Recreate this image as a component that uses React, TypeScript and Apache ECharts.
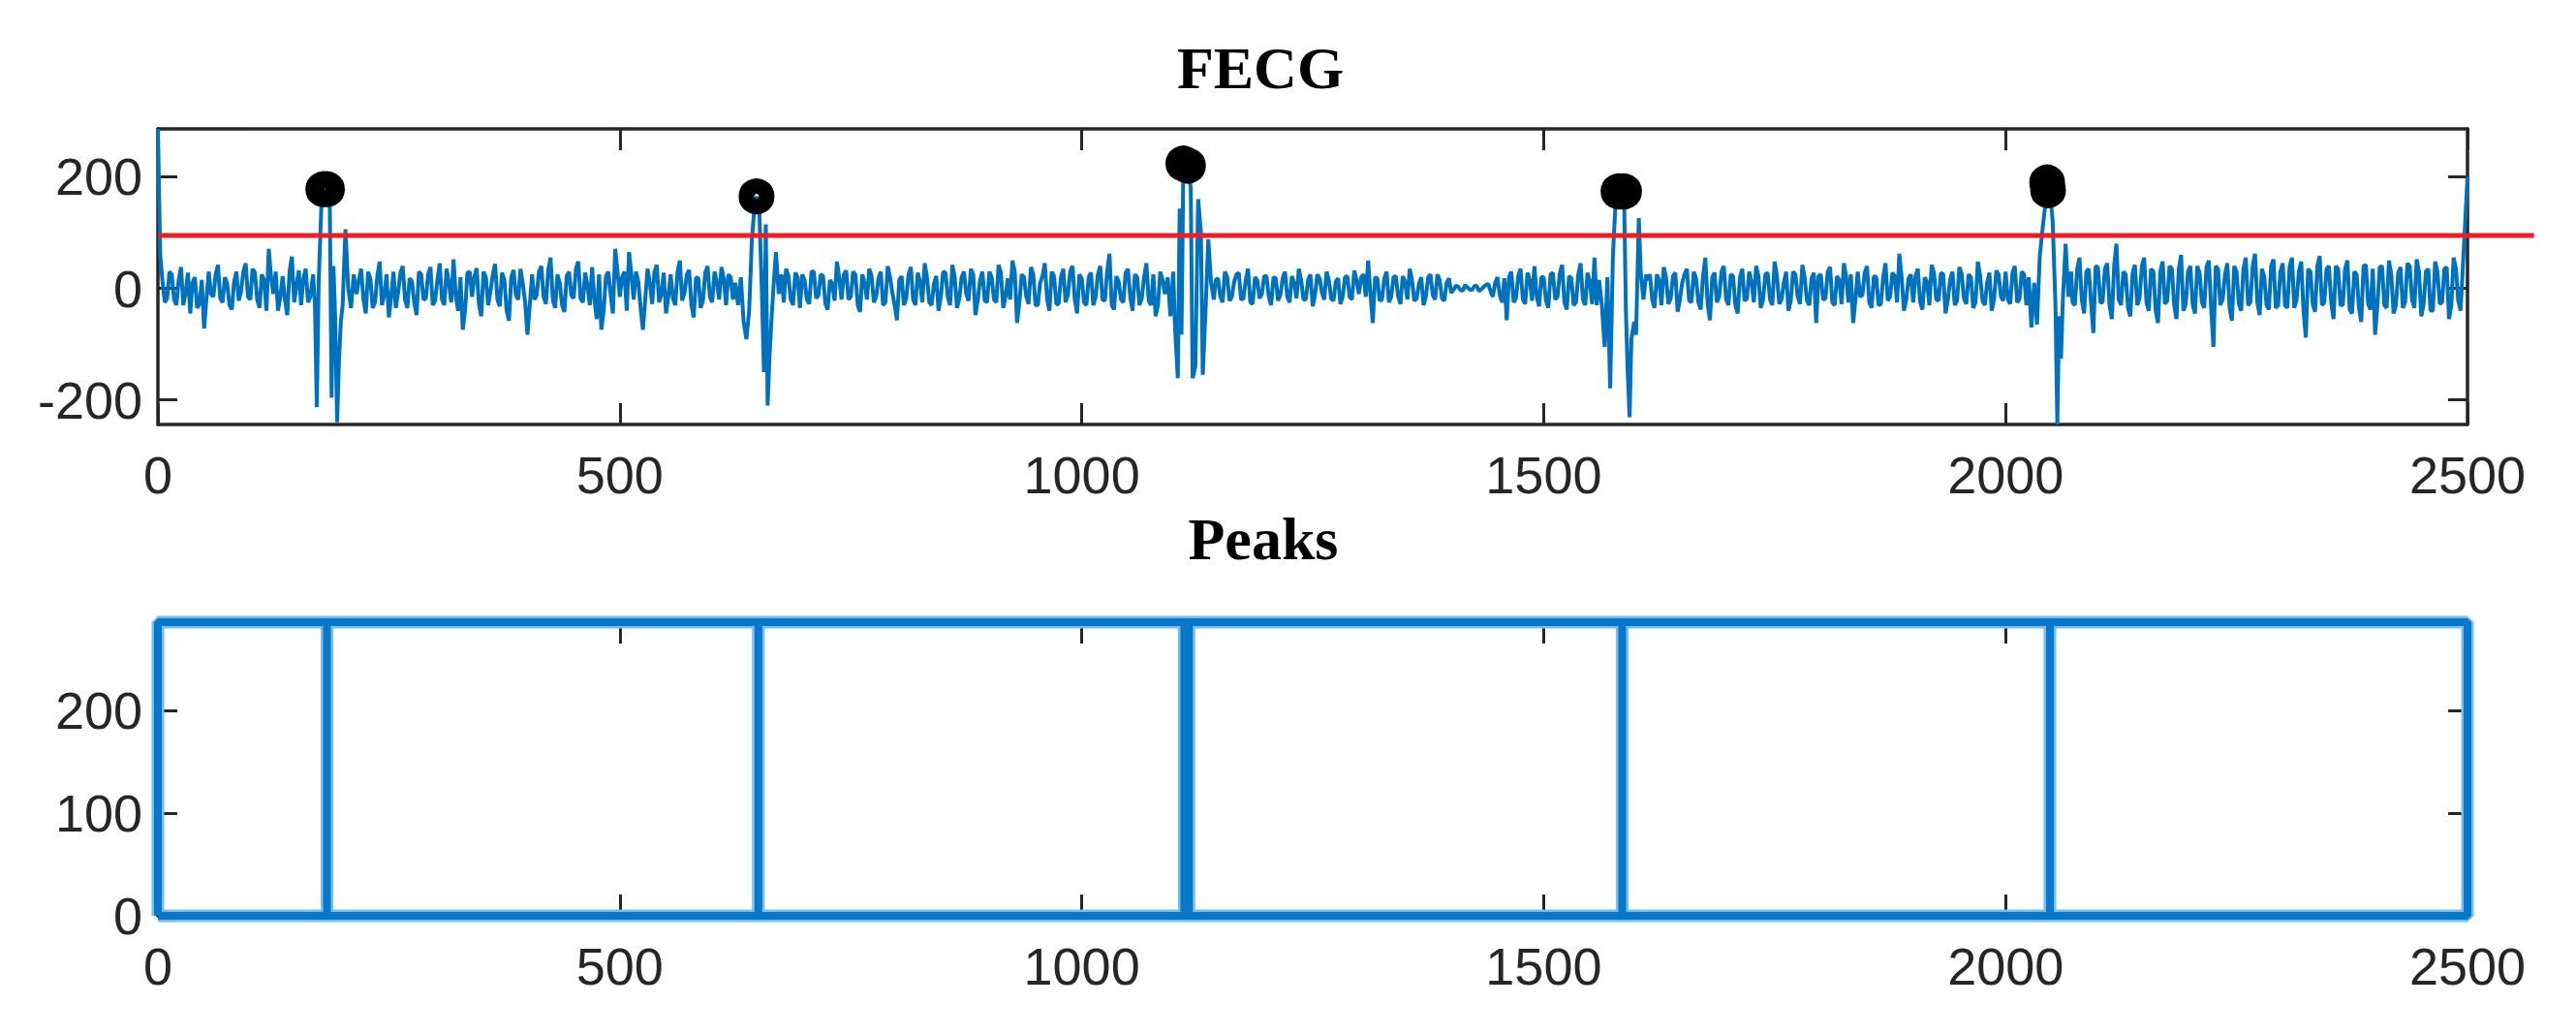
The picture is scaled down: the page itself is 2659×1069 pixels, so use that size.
import React, { useEffect, useRef } from "react";
import * as echarts from "echarts";

// ---------- data ----------
const fecgStep = 5; // base samples at x = i * 5, mid samples at x = i * 5 + 2.5
const fecgBase = [
  286, 12, -18, 25, -30, 38, -8, -45, 20, -28, -72, 30, -15, 42, -25, 8, -38, 30, -5, 45,
  -20, 28, -35, 15, 71, -10, -40, 22, -48, 57, 5, -30, 35, 10, -20, 40, -60, 150, 170, 20,
  -30, 100, 5, -20, 35, -45, 18, -25, 48, -12, -52, 30, -8, 40, -35, 12, -48, 25, -18, 38,
  -22, 45, -30, 10, 52, -40, -74, 28, -15, 36, -50, 20, -5, 44, -32, 15, -58, 33, -20, 8,
  -83, 25, -12, 40, -28, 55, -35, 10, -42, 30, -18, 48, -25, 5, 38, -55, -74, 22, -10, 71,
  -15, 30, 65, -20, 12, -74, 35, -28, 42, -10, -45, 25, -30, 50, -8, 33, -52, 18, -22, 40,
  -25, 12, 38, -30, 20, -40, -60, 60, -91, 150, 160, 60, -150, -210, -100, 20, 35, -20, 28, -35,
  15, -28, 30, -12, 22, -38, 8, 48, -20, 32, -15, 25, -42, 10, 35, -25, 18, -30, 40, -8,
  -57, 22, -18, 38, -30, 12, 45, -25, 8, -40, 30, -15, 42, -35, 20, -10, 35, -48, 15, -22,
  30, -20, 42, -35, 18, 50, -62, 25, -15, 38, -30, 10, 45, -40, 22, -28, 35, -12, 40, -45,
  18, -30, 28, -15, 40, -22, 62, -38, 12, -25, 35, -40, 20, -18, 45, -30, -50, 30, -60, -90,
  180, 222, 50, -160, 170, -40, 88, 10, -20, 25, -15, 30, -22, 12, 28, -18, 35, -28, 15, -10,
  22, -30, 18, -12, 30, -25, 10, 35, -20, 15, -32, 25, -8, 30, -18, 12, -28, 20, -15, 32,
  -10, 25, 50, -62, 18, -20, 30, -15, 22, -28, 12, 35, -22, 8, -30, 20, -12, 25, -18, 10,
  -8, 5, -3, 6, -2, 4, -5, 3, 8, -15, 20, -25, -57, 30, -18, 35, -28, 15, 40, -32,
  20, -35, 28, -15, 42, -38, 18, -25, 45, -30, 12, 55, -50, -105, 170, 170, -180, -230, -40, 126,
  30, 123, -20, 25, -35, 15, 38, -28, 22, -42, 10, 35, -25, 18, -38, 55, -57, 28, -15, 40,
  -30, 22, -45, 35, -18, 12, 40, -35, 25, -20, 48, -28, 10, -40, 30, -15, 42, -22, 18, -62,
  25, -18, 38, -30, 15, 45, -25, -62, 30, -12, 40, -35, 20, -28, 45, -15, 22, 62, -40, 18,
  -25, 35, -38, 12, 42, -20, 28, -45, 15, -30, 38, -18, 25, -35, 48, -22, 10, -40, 32, -15,
  30, -28, 40, -20, 25, -70, -70, 30, 60, 176, -244, -126, 40, 75, 20, -30, 55, -45, 35, -80,
  38, -25, 45, -55, 80, -30, 25, -50, 42, -18, 55, -40, 30, -62, 48, -22, 35, -55, 60, -28,
  40, -45, 28, -35, 50, -105, 35, -20, 45, -58, 30, -40, 55, -25, 62, -48, 20, -38, 52, -30,
  45, -35, 55, -20, 48, -88, 30, -42, 58, -25, 40, -55, 35, -30, 50, -45, 25, -60, 42, -38,
  -83, 38, -30, 50, -45, 28, -35, 45, -20, 52, -50, 30, -40, 48, -28, 35, -55, 55, -22, 40,
  200,
];
const fecgMid = [
  60, -25, 30, -20, 15, -30, 28, 10, -35, 15, -20, -10, 25, -18, 20, -30, 12, -22, 30, -15,
  35, -20, 25, -40, 20, 30, -15, -20, 30, -25, 32, 18, -25, 30, 22, -35, 10, 160, 100, -60,
  40, 50, -28, 15, -20, 30, -35, 22, -30, 25, -15, -35, 28, -20, 18, -25, 30, -20, 25, -30,
  15, -20, 35, -25, -15, 20, -40, 30, 20, -28, 30, -30, 25, -20, 28, -40, 20, -12, 35, -25,
  -30, -20, 30, -15, 32, -20, 25, -30, 22, -12, 35, -18, 28, -30, -20, 25, -40, 30, -45, 30,
  20, -40, 25, 30, -35, -20, 10, 30, -25, 28, -15, -18, 30, -22, 25, -30, 20, -35, 28, -15,
  30, -20, 18, 25, -20, 30, -45, 20, 60, 160, 120, -80, -180, -160, -40, -25, 22, -30, 20, 25,
  -20, 30, -18, 25, -28, 15, -22, 20, 25, -20, 30, -30, 25, -20, 22, -15, 30, -25, 20, -30,
  15, -30, 25, -20, 28, -25, 20, -30, 22, -15, 28, -30, 20, -18, 30, -22, 25, -20, 30, -25,
  20, -25, 28, -15, -20, 30, -25, 20, -28, 25, -30, 22, -18, 30, -28, 20, -25, 30, -20, 25,
  -25, 20, -30, 25, -20, 30, -30, 22, -20, 28, -15, 25, -30, 20, -22, 25, -30, 15, -40, 60,
  200, 110, -100, 20, 60, 30, -20, 28, -15, 18, -25, 20, -15, 25, -20, 15, -25, 20, -18, 22,
  -15, 20, -22, 18, -15, 22, -18, 15, -20, 25, -12, 18, -20, 15, -22, 18, -15, 22, -20, 15,
  20, -15, -10, 20, -22, 18, -25, 20, -15, 22, -20, 15, -18, 20, -15, 25, -20, 15, -22, 18,
  -2, 3, -4, 2, -3, 5, -2, 6, -5, 10, -12, 18, 20, -25, 22, -20, 28, -22, -15, 20,
  -22, 25, -20, 28, -25, 22, -30, 25, -20, 28, -28, -30, -80, 40, 172, 20, -200, -100, 30, 60,
  50, 40, 15, -20, 25, -30, 20, -18, 28, -20, 25, -22, 30, -25, 22, -28, 20, -25, 30, -20,
  25, -30, 20, -22, 30, -25, 22, -20, 28, -30, 22, -20, 30, -22, 25, -28, 20, -30, 28, 22,
  -20, 30, -25, 22, -28, 20, 25, -20, -15, 28, -25, 22, -30, 20, -22, 28, -25, 20, -20, 25,
  22, -25, 20, -30, 28, -22, 25, -20, 30, -22, 25, -28, 20, -25, 22, -30, 28, -20, 25, -22,
  -20, 28, -25, 30, -30, -50, 20, 50, 120, -50, -180, 30, 60, 20, -25, 35, -20, 30, -25, 40,
  -25, 35, -30, 40, -20, 30, -35, 28, -30, 40, -25, 35, -40, 30, -28, 40, -30, 35, -40, 30,
  -28, 40, -25, 38, -35, 40, -30, 25, -35, 40, -28, 35, -30, 40, -25, 35, -30, 40, -35, 30,
  -30, 40, -35, 30, -40, 35, -28, 40, -30, 35, -25, 40, -30, 35, -38, 30, -35, 40, -28, 35,
  -30, 40, -35, 25, -30, 38, -25, 40, -35, 30, -28, 35, -40, 30, -25, 38, -30, 35, -40, 120,
];

// QRS complexes, sample-resolution [x, y] pairs (replace base samples in their span)
const qrs1 = [
  [165, -15], [168, 25], [170, -30], [172, -213], [174, 10], [177, 150], [180, 178], [183, 172],
  [186, 160], [188, -196], [190, 40], [192, -60], [194, -240], [196, -130], [198, -60], [200, -30],
  [203, 106], [206, 0], [209, -35], [212, 25], [215, -10],
];
const qrs2 = [
  [625, 10], [628, -30], [631, 20], [634, -60], [637, -91], [640, -40], [643, 90], [646, 150],
  [648, 165], [651, 140], [654, -20], [656, -150], [658, 115], [660, -210], [662, -123], [664, -60],
  [667, 20], [669, 65], [672, -10], [675, 25],
];
const qrs3 = [
  [1090, -10], [1093, 20], [1096, -50], [1099, 30], [1101, -70], [1104, -161], [1106, 143],
  [1108, -83], [1110, 224], [1112, 200], [1115, 220], [1118, 180], [1120, -161], [1123, -140],
  [1126, 160], [1129, 100], [1131, -155], [1134, -40], [1137, 88], [1140, 10], [1143, -20], [1145, 15],
];
const qrs4 = [
  [1560, 15], [1563, -30], [1566, -105], [1569, 20], [1572, -179], [1575, 60], [1578, 160],
  [1581, 174], [1584, 170], [1587, 174], [1589, -40], [1591, -150], [1593, -231], [1595, -90],
  [1598, -60], [1600, -83], [1603, 126], [1605, 30], [1608, -20], [1611, 25],
];
const qrs5 = [
  [2025, 20], [2028, -70], [2031, 10], [2034, -65], [2037, 57], [2040, 106], [2043, 150],
  [2045, 190], [2048, 176], [2051, 120], [2054, -30], [2056, -244], [2058, -50], [2060, -126],
  [2062, -20], [2065, 80], [2068, -15], [2071, 30],
];
const qrsComplexes = [qrs1, qrs2, qrs3, qrs4, qrs5];

const peakLocs = [179, 183, 648, 1110, 1115, 1581, 1587, 2045, 2046];
const peakVals = [178, 178, 165, 224, 220, 174, 174, 190, 176];
const peakLineLocs = [183, 650, 1111, 1116, 1585, 2048];

const threshold = 95;
const thresholdSpan = [0, 2572];

const xRange = [0, 2500];
const xTicks = [0, 500, 1000, 1500, 2000, 2500];
const fecgRange = [-244, 286];
const fecgYTicks = [-200, 0, 200];
const peaksRange = [0, 286];
const peaksYTicks = [0, 100, 200];

// ---------- styles ----------
const AXIS = "#262626";
const LABEL_FONT = "Liberation Sans, Arial, sans-serif";
const TITLE_FONT = "Liberation Serif, Times New Roman, serif";

function buildFecg(): number[][] {
  const pts: number[][] = [];
  const inQrs = (x: number) => qrsComplexes.some((q) => x >= q[0][0] && x <= q[q.length - 1][0]);
  fecgBase.forEach((v, i) => {
    const x = i * fecgStep;
    if (!inQrs(x)) pts.push([x, v]);
  });
  fecgMid.forEach((v, i) => {
    const x = i * fecgStep + fecgStep / 2;
    if (!inQrs(x)) pts.push([x, v]);
  });
  qrsComplexes.forEach((q) => q.forEach((p) => pts.push([p[0], p[1]])));
  pts.sort((a, b) => a[0] - b[0]);
  return pts;
}

const fmt = (v: number) => String(v);

function xAxisPair(gridIndex: number) {
  const common = {
    type: "value",
    gridIndex,
    min: xRange[0],
    max: xRange[1],
    splitLine: { show: false },
    axisLine: { show: true, onZero: false, lineStyle: { color: AXIS, width: 3.5 } },
    axisTick: { show: true, inside: true, length: 22, customValues: xTicks, lineStyle: { color: AXIS, width: 3 } },
  };
  return [
    {
      ...common,
      position: "bottom",
      axisLabel: {
        show: true, customValues: xTicks, formatter: fmt, color: AXIS,
        fontSize: 54, fontFamily: LABEL_FONT, margin: 25,
      },
    },
    { ...common, position: "top", axisLabel: { show: false } },
  ];
}

function yAxisPair(gridIndex: number, range: number[], ticks: number[]) {
  const common = {
    type: "value",
    gridIndex,
    min: range[0],
    max: range[1],
    splitLine: { show: false },
    axisLine: { show: true, onZero: false, lineStyle: { color: AXIS, width: 3.5 } },
    axisTick: { show: true, inside: true, length: 20, customValues: ticks, lineStyle: { color: AXIS, width: 3 } },
  };
  return [
    {
      ...common,
      position: "left",
      axisLabel: {
        show: true, customValues: ticks, formatter: fmt, color: AXIS,
        fontSize: 54, fontFamily: LABEL_FONT, margin: 16,
      },
    },
    { ...common, position: "right", axisLabel: { show: false } },
  ];
}

// a thick MATLAB-like blue stroke drawn as a light halo under a darker core
function peakPath(data: number[][], halo: boolean) {
  return {
    type: "line",
    xAxisIndex: 2,
    yAxisIndex: 2,
    data,
    showSymbol: false,
    clip: false,
    silent: true,
    lineStyle: halo ? { color: "#73bdf4", width: 13 } : { color: "#0a78c8", width: 8 },
    z: halo ? 3 : 4,
  };
}

export default function App() {
  const ref = useRef<HTMLDivElement>(null);

  useEffect(() => {
    if (!ref.current) return;
    const chart = echarts.init(ref.current, undefined, { renderer: "svg" });

    const fecg = buildFecg();
    const frame = [
      [xRange[0], peaksRange[0]],
      [xRange[0], peaksRange[1]],
      [xRange[1], peaksRange[1]],
      [xRange[1], peaksRange[0]],
      [xRange[0], peaksRange[0]],
    ];
    const peakLines = peakLineLocs.map((p) => [
      [p, peaksRange[0]],
      [p, peaksRange[1]],
    ]);
    const paths = [frame, ...peakLines];
    const halos = paths.map((d) => peakPath(d, true));
    const cores = paths.map((d) => peakPath(d, false));

    const option: any = {
      animation: false,
      backgroundColor: "#ffffff",
      title: [
        {
          text: "FECG", left: 1296, top: 34, textAlign: "center",
          textStyle: { fontFamily: TITLE_FONT, fontWeight: "bold", fontSize: 62, color: "#000" },
        },
        {
          text: "Peaks", left: 1299, top: 520, textAlign: "center",
          textStyle: { fontFamily: TITLE_FONT, fontWeight: "bold", fontSize: 62, color: "#000" },
        },
      ],
      grid: [
        { left: 163, top: 133, width: 2384, height: 305, containLabel: false },
        { left: 163, top: 642, width: 2384, height: 303, containLabel: false },
      ],
      xAxis: [...xAxisPair(0), ...xAxisPair(1)],
      yAxis: [...yAxisPair(0, fecgRange, fecgYTicks), ...yAxisPair(1, peaksRange, peaksYTicks)],
      series: [
        {
          name: "FECG", type: "line", xAxisIndex: 0, yAxisIndex: 0, data: fecg,
          showSymbol: false, clip: false, sampling: undefined,
          lineStyle: { color: "#0072BD", width: 4 },
          z: 2,
        },
        {
          name: "Detected peaks", type: "scatter", xAxisIndex: 0, yAxisIndex: 0,
          data: peakLocs.map((x, i) => [x, peakVals[i]]),
          symbol: "circle", symbolSize: 21,
          itemStyle: { color: "rgba(0,0,0,0)", borderColor: "#000", borderWidth: 16, opacity: 1 },
          z: 3,
        },
        ...halos,
        ...cores,
      ],
    };

    chart.setOption(option);

    // threshold line: extends past the right edge of the axes, positioned via the axis scales
    const p0 = chart.convertToPixel({ xAxisIndex: 0, yAxisIndex: 0 }, [thresholdSpan[0], threshold]) as number[];
    const p1 = chart.convertToPixel({ xAxisIndex: 0, yAxisIndex: 0 }, [thresholdSpan[1], threshold]) as number[];
    chart.setOption({
      graphic: [
        {
          type: "line",
          z: 100,
          shape: { x1: p0[0], y1: p0[1], x2: p1[0], y2: p1[1] },
          style: { stroke: "#ee1c25", lineWidth: 5 },
        },
      ],
    });

    return () => chart.dispose();
  }, []);

  return (
    <div
      ref={ref}
      style={{ position: "fixed", left: 0, top: 0, width: "2659px", height: "1069px", background: "#fff" }}
    />
  );
}
